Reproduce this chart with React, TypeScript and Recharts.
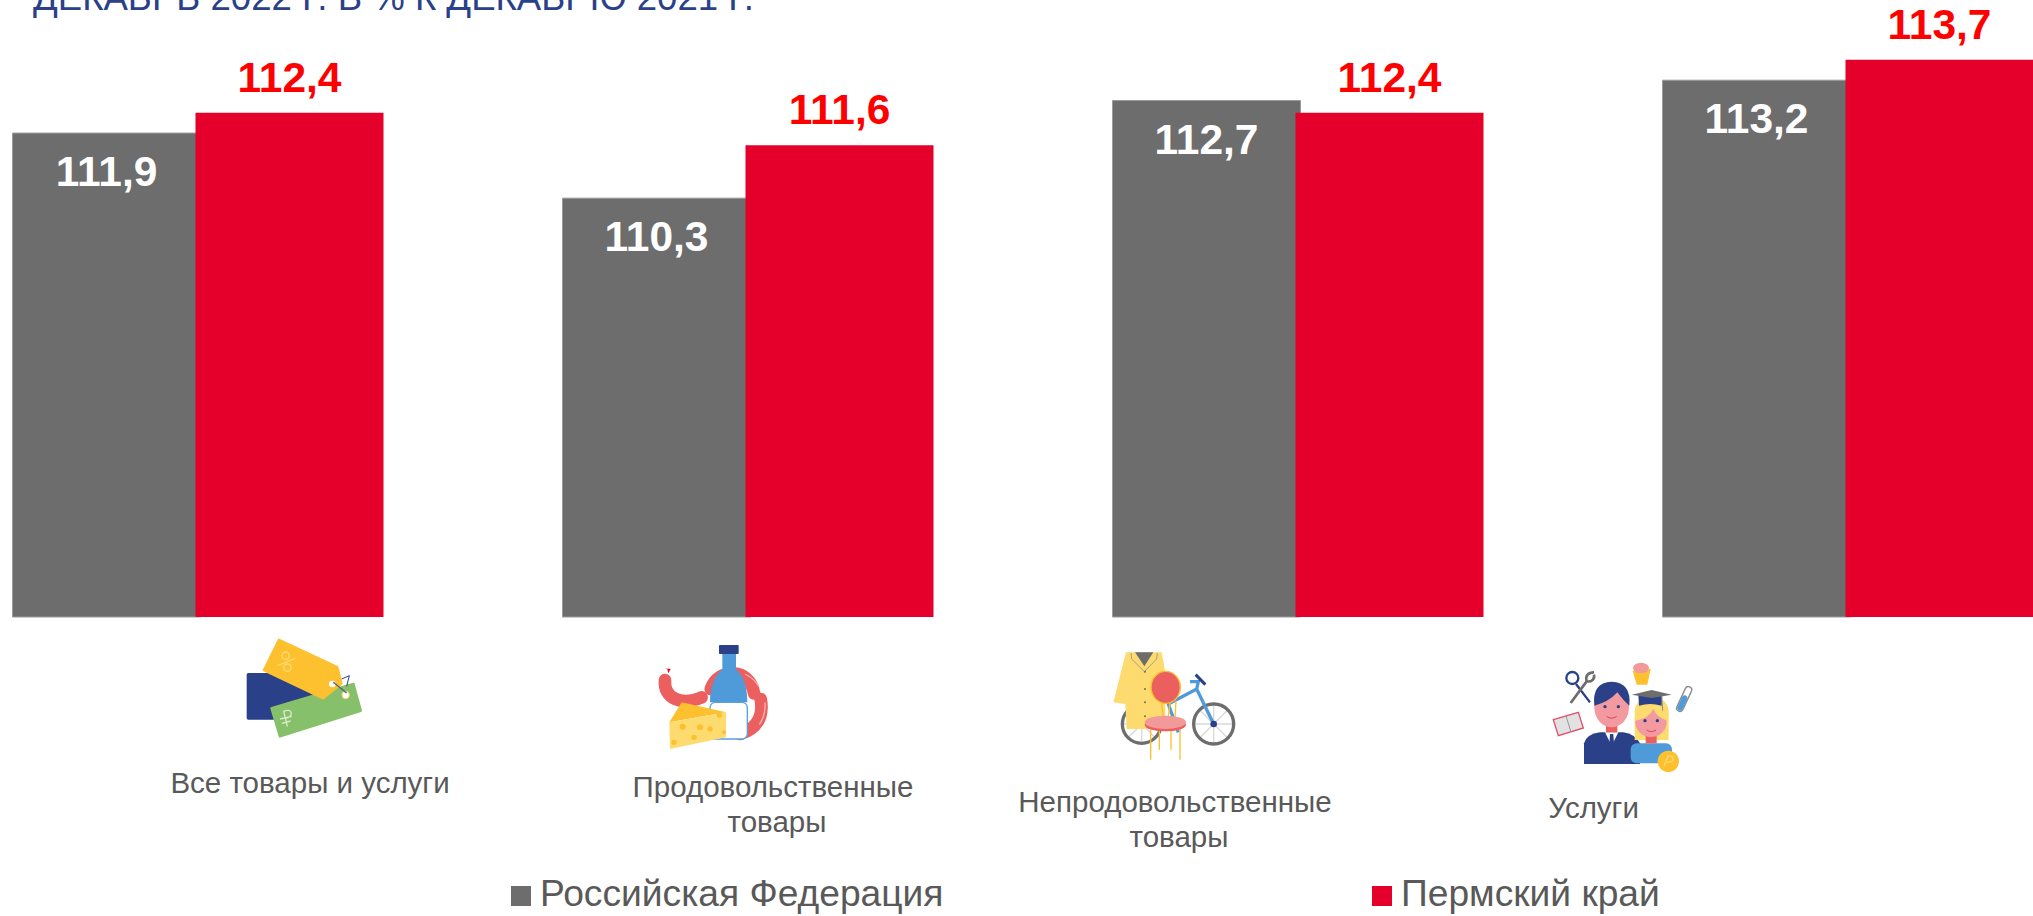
import { Bar, BarChart, LabelList, Legend, XAxis, YAxis } from "recharts";

const FONT = '"Liberation Sans", Arial, sans-serif';
const NAVY = "#2a4189";
const RED = "#e4002b";
const GREY = "#6d6d6d";
const YELLOW = "#fdc02f";
const PALE = "#fedb6f";
const SALMON = "#ec5f5f";
const PINK = "#f29aa0";
const BLUE = "#4f9bd9";

const title = "ДЕКАБРЬ 2022 Г. В % К ДЕКАБРЮ 2021 Г.";
const categories = ["Все товары и услуги", "Продовольственные товары", "Непродовольственные товары", "Услуги"];
const categoryLines = [["Все товары и услуги"], ["Продовольственные", "товары"], ["Непродовольственные", "товары"], ["Услуги"]];
const russiaValues = [111.9, 110.3, 112.7, 113.2];
const permValues = [112.4, 111.6, 112.4, 113.7];

const chartData = categories.map((name, i) => ({ name, russia: russiaValues[i], perm: permValues[i] }));

// offsets from the tick point: label centre / first baseline, then the icon's corner
const tickLayout = [
  { labelX: 112.5, labelY: 176, iconX: 32.5, iconY: 12 },
  { labelX: 25.5, labelY: 180, iconX: -97.5, iconY: 17 },
  { labelX: -122.5, labelY: 195, iconX: -197.5, iconY: 22 },
  { labelX: -254, labelY: 201, iconX: -307.5, iconY: 37 },
];

const formatValue = (v: number) => v.toFixed(1).replace(".", ",");

function TagsIcon() {
  return (
    <g>
      <rect x={50} y={132} width={200} height={140} rx={5} fill={NAVY} />
      <polygon points="125,238 370,165 392,245 150,322" fill="#87c06b" stroke="#87c06b" strokeWidth={8} strokeLinejoin="round" />
      <polygon points="145,28 325,112 338,165 280,212 97,125" fill={YELLOW} />
      <circle cx={307} cy={165} r={10} fill="#fff" />
      <circle cx={347} cy={198} r={11} fill="#fff" stroke={PALE} strokeWidth={3} />
      <path d="M310 160 L350 192" stroke="#55607f" strokeWidth={4} />
      <path d="M335 150 L358 140 L350 172" stroke={NAVY} strokeWidth={3} fill="none" />
      <g stroke={PALE} strokeWidth={4} fill="none">
        <circle cx={167} cy={80} r={11} />
        <circle cx={172} cy={116} r={11} />
        <path d="M143 110 L196 88" />
      </g>
      <path d="M172 292 L161 247 C185 235 195 262 167 268 M150 270 L185 262 M155 283 L182 276" stroke="#d8ecca" strokeWidth={4} fill="none" />
    </g>
  );
}

function FoodIcon() {
  return (
    <g>
      <path d="M52 106 L45 104 L62 104 L55 118 Z" fill={RED} />
      <path d="M45 138 C40 195 95 215 155 190" stroke={SALMON} strokeWidth={38} strokeLinecap="round" fill="none" />
      <path d="M182 165 C205 100 300 100 312 178" stroke={SALMON} strokeWidth={38} strokeLinecap="round" fill="none" />
      <path d="M332 195 C342 250 320 285 270 300" stroke={SALMON} strokeWidth={38} strokeLinecap="round" fill="none" />
      <path d="M285 120 C305 130 320 145 327 158 M345 205 C347 235 340 255 328 272" stroke="#f8b0b0" strokeWidth={4} fill="none" />
      <path d="M217 60 L258 60 L258 105 C280 125 292 155 292 205 L180 205 C180 155 195 125 217 105 Z" fill={BLUE} />
      <rect x={207} y={33} width={59} height={27} rx={2} fill={NAVY} />
      <rect x={180} y={205} width={112} height={110} rx={16} fill="#fff" stroke="#5aa0dc" strokeWidth={4} />
      <polygon points="58,265 95,205 228,235" fill={YELLOW} />
      <polygon points="58,265 228,235 228,310 60,345" fill={PALE} />
      <g fill={YELLOW}>
        <circle cx={98} cy={278} r={9} />
        <circle cx={150} cy={280} r={9} />
        <circle cx={180} cy={285} r={8} />
        <circle cx={72} cy={325} r={8} />
        <circle cx={132} cy={310} r={8} />
        <circle cx={208} cy={243} r={8} />
        <circle cx={222} cy={295} r={6} />
      </g>
    </g>
  );
}

function GoodsIcon() {
  return (
    <g>
      <g stroke="#d9d9d9" strokeWidth={4}>
        <path d="M341 195 V315 M281 255 H401 M299 213 L383 297 M383 213 L299 297" />
        <path d="M125 197 V313 M67 255 H183 M84 214 L166 296 M166 214 L84 296" />
      </g>
      <circle cx={125} cy={255} r={58} stroke={GREY} strokeWidth={10} fill="none" />
      <circle cx={341} cy={255} r={60} stroke={GREY} strokeWidth={10} fill="none" />
      <path d="M341 255 L290 150 L205 195 L235 280 M270 128 L295 128 L290 150" stroke={BLUE} strokeWidth={10} fill="none" />
      <path d="M287 107 L316 137" stroke={NAVY} strokeWidth={9} />
      <circle cx={341} cy={255} r={10} fill={NAVY} />
      <polygon points="78,40 185,40 196,100 196,270 80,270 76,195 40,190" fill={PALE} />
      <polygon points="105,40 160,40 133,82" fill={GREY} />
      <path d="M93 42 L95 60 L133 98 L170 60 L172 42" stroke="#a8a08a" strokeWidth={3} fill="none" />
      <g fill={GREY}>
        <circle cx={135} cy={98} r={3} />
        <circle cx={135} cy={150} r={3} />
        <circle cx={135} cy={190} r={3} />
        <circle cx={135} cy={232} r={3} />
      </g>
      <g stroke={YELLOW} strokeWidth={4}>
        <path d="M152 265 V362 M240 265 V362 M178 265 V332 M213 265 V332" />
        <path d="M185 190 L190 235 M210 190 L205 235 M228 185 L225 235" />
      </g>
      <ellipse cx={197} cy={145} rx={44} ry={48} fill={SALMON} stroke={YELLOW} strokeWidth={4} />
      <ellipse cx={196} cy={257} rx={62} ry={20} fill={SALMON} />
      <ellipse cx={196} cy={250} rx={62} ry={20} fill="#f29a9a" />
    </g>
  );
}

function ServicesIcon() {
  return (
    <g>
      <circle cx={97} cy={72} r={18} stroke={NAVY} strokeWidth={7} fill="none" />
      <path d="M108 90 L150 145" stroke={NAVY} strokeWidth={7} />
      <path d="M92 147 L140 82 M140 82 C135 65 145 55 162 55 M140 82 C155 85 165 75 162 62" stroke={GREY} strokeWidth={8} fill="none" />
      <polygon points="40,197 115,175 130,222 55,245" fill="#e2e2e2" stroke="#e0506a" strokeWidth={4} />
      <path d="M78 186 L93 234" stroke="#999" strokeWidth={3} />
      <polygon points="278,50 332,45 322,92 290,92" fill={YELLOW} />
      <ellipse cx={303} cy={42} rx={24} ry={16} fill="#f29a9a" />
      <path d="M445 108 L420 162" stroke="#8a8a8a" strokeWidth={24} strokeLinecap="round" />
      <path d="M445 108 L420 162" stroke="#fff" strokeWidth={16} strokeLinecap="round" />
      <path d="M434 132 L420 162" stroke={BLUE} strokeWidth={16} strokeLinecap="round" />
      <path d="M132 330 L132 268 Q140 240 180 235 L250 235 Q285 240 300 268 L300 330 Z" fill={NAVY} />
      <polygon points="195,235 235,235 215,275" fill="#fff" />
      <polygon points="210,240 220,240 222,270 215,280 208,270" fill={NAVY} />
      <rect x={198} y={208} width={34} height={27} fill={SALMON} />
      <ellipse cx={215} cy={160} rx={52} ry={60} fill={PINK} />
      <path d="M163 155 Q155 85 215 83 Q275 85 268 155 Q250 140 232 115 Q205 145 163 155 Z" fill={NAVY} />
      <circle cx={195} cy={158} r={5} fill={NAVY} />
      <circle cx={235} cy={158} r={5} fill={NAVY} />
      <path d="M200 187 Q215 198 230 187" stroke="#e0405a" strokeWidth={3} fill="none" />
      <path d="M284 258 L284 170 Q290 130 335 130 Q380 130 386 170 L386 258 Z" fill={PALE} />
      <rect x={272} y={268} width={124} height={60} rx={18} fill={BLUE} />
      <rect x={317} y={243} width={33} height={25} fill={SALMON} />
      <ellipse cx={333} cy={205} rx={47} ry={44} fill={PINK} />
      <path d="M286 200 Q290 160 335 155 Q378 160 382 200 Q350 190 340 165 Q325 195 286 200 Z" fill={PALE} />
      <path d="M295 122 L367 122 L365 155 Q330 145 297 155 Z" fill={NAVY} />
      <polygon points="275,122 335,108 395,122 335,132" fill={GREY} />
      <path d="M365 125 L368 170" stroke="#8a8a8a" strokeWidth={3} />
      <circle cx={315} cy={200} r={5} fill={NAVY} />
      <circle cx={352} cy={200} r={5} fill={NAVY} />
      <path d="M320 228 Q334 238 348 228" stroke="#e0405a" strokeWidth={3} fill="none" />
      <circle cx={385} cy={322} r={32} fill={YELLOW} />
      <path d="M372 335 L385 305 C405 305 405 325 380 325" stroke={PALE} strokeWidth={4} fill="none" />
    </g>
  );
}

const icons = [TagsIcon, FoodIcon, GoodsIcon, ServicesIcon];

function CategoryTick({ x, y, index }: any) {
  const layout = tickLayout[index];
  const Icon = icons[index];
  return (
    <g>
      <g transform={`translate(${x + layout.iconX} ${y + layout.iconY}) scale(${1 / 3})`}>
        <Icon />
      </g>
      <text x={x + layout.labelX} y={y + layout.labelY} textAnchor="middle" fontFamily={FONT} fontSize={29.5} fill="#595959">
        {categoryLines[index].map((line, i) => (
          // the second line sits a little to the right in the reference
          <tspan key={line} x={x + layout.labelX + (i === 0 ? 0 : 4)} dy={i === 0 ? 0 : 35}>
            {line}
          </tspan>
        ))}
      </text>
    </g>
  );
}

function ChartLegend({ payload }: any) {
  const starts = [511, 1372];
  return (
    <div style={{ position: "relative", height: 46, fontFamily: FONT, fontSize: 37.2, color: "#595959" }}>
      {(payload ?? []).map((item: any, i: number) => (
        <div key={item.value} style={{ position: "absolute", left: starts[i], top: 0, lineHeight: "46px", whiteSpace: "nowrap" }}>
          <span style={{ display: "inline-block", width: 20, height: 20, marginRight: 9, background: item.color }} />
          {item.value}
        </div>
      ))}
    </div>
  );
}

export default function App() {
  return (
    <div style={{ position: "absolute", left: 0, top: 0, width: 2033, height: 916, overflow: "hidden", background: "#fff" }}>
      <div style={{ position: "absolute", left: 33, top: -22, fontFamily: FONT, fontSize: 36.6, lineHeight: "40px", color: NAVY, whiteSpace: "nowrap" }}>
        {title}
      </div>
      <BarChart
        width={2033}
        height={916}
        data={chartData}
        barSize={188}
        barGap={-5}
        margin={{ top: 7, right: -89.5, bottom: 0, left: -77.5 }}
        style={{ position: "absolute", left: 0, top: 0 }}
      >
        <XAxis dataKey="name" height={299} axisLine={false} tickLine={false} tickSize={0} tickMargin={0} interval={0} tick={<CategoryTick />} />
        <YAxis hide domain={[100, 115]} />
        <Legend
          layout="horizontal"
          verticalAlign="middle"
          align="center"
          itemSorter={null}
          content={<ChartLegend />}
          wrapperStyle={{ left: 0, top: 870, width: 2033 }}
        />
        <Bar dataKey="russia" name="Российская Федерация" fill={GREY} stroke="#9a9a9a" strokeWidth={1} isAnimationActive={false}>
          <LabelList dataKey="russia" position="insideTop" offset={23} formatter={formatValue} fill="#fff" fontFamily={FONT} fontSize={42.5} fontWeight="bold" />
        </Bar>
        <Bar dataKey="perm" name="Пермский край" fill={RED} isAnimationActive={false}>
          <LabelList dataKey="perm" position="top" offset={21} formatter={formatValue} fill="#ff0000" fontFamily={FONT} fontSize={42.5} fontWeight="bold" />
        </Bar>
      </BarChart>
    </div>
  );
}
